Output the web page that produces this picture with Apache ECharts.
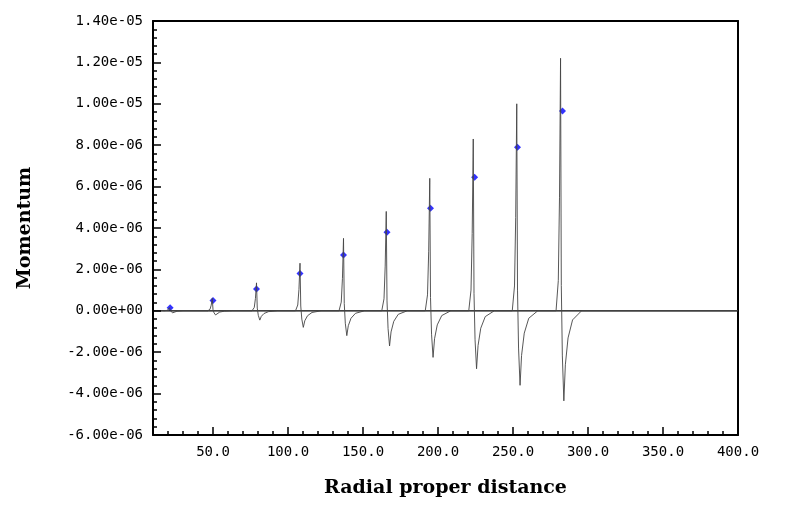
<!DOCTYPE html>
<html><head><meta charset="utf-8">
<script src="https://cdn.jsdelivr.net/npm/echarts@6/dist/echarts.min.js"></script>
<style>html,body{margin:0;padding:0;background:#fff}#c{width:789px;height:519px}</style>
</head><body><div id="c"></div>
<script>
// momentum curve, values in units of 1e-6
const curve = [[17,0],
[18,0],[19.5,0.02],[20.3,0.07],[21,0.15],[21.5,0.02],[22.2,-0.05],[23,-0.1],[24,-0.06],[26,-0.02],[30,0],
[46.5,0],[48,0.07],[48.8,0.27],[49.5,0.6],[50,0.06],[50.7,-0.1],[51.7,-0.2],[52.7,-0.12],[54.5,-0.06],[57.5,-0.02],[63,0],
[76,0],[77.5,0.16],[78.3,0.6],[79,1.35],[79.5,0.13],[80.2,-0.22],[81.2,-0.45],[82.2,-0.27],[84,-0.13],[87,-0.04],[93,0],
[105,0],[106.5,0.28],[107.3,1.03],[108,2.3],[108.5,0.23],[109.2,-0.4],[110.2,-0.8],[111.2,-0.48],[113,-0.24],[116,-0.08],[122,0],
[134,0],[135.5,0.42],[136.3,1.57],[137,3.5],[137.5,0.35],[138.2,-0.6],[139.2,-1.2],[140.2,-0.72],[142,-0.36],[145,-0.12],[151,0],
[162.5,0],[164,0.58],[164.8,2.16],[165.5,4.8],[166,0.48],[166.7,-0.85],[167.7,-1.7],[168.7,-1.02],[170.5,-0.51],[173.5,-0.17],[179.5,0],
[191.5,0],[193,0.77],[193.8,2.88],[194.5,6.4],[195,0.64],[195.7,-1.13],[196.7,-2.25],[197.7,-1.35],[199.5,-0.68],[202.5,-0.23],[208.5,0],
[220.5,0],[222,1.0],[222.8,3.74],[223.5,8.3],[224,0.83],[224.7,-1.4],[225.7,-2.8],[226.7,-1.68],[228.5,-0.84],[231.5,-0.28],[237.5,0],
[249.5,0],[251,1.2],[251.8,4.5],[252.5,10.0],[253,1.0],[253.7,-1.8],[254.7,-3.6],[255.7,-2.16],[257.5,-1.08],[260.5,-0.36],[266.5,0],
[278.7,0],[280.2,1.46],[281,5.49],[281.7,12.2],[282.2,1.22],[282.9,-2.18],[283.9,-4.35],[284.9,-2.61],[286.7,-1.31],[289.7,-0.44],[295.7,0],[400,0]];
const pointX = [21.4,50,79,108,137,166,195,224.4,253,283];
const pointY = [0.15,0.5,1.05,1.8,2.7,3.8,4.95,6.45,7.9,9.65];
const xTicks = [50,100,150,200,250,300,350,400];
const E6 = 1e-6;
function fmtY(v){
  if (Math.abs(v) < 1e-12) return '0.00e+00';
  let s = v.toExponential(2); let [m,e] = s.split('e');
  let sign = e[0]; let n = e.slice(1); if (n.length<2) n='0'+n;
  return m+'e'+sign+n;
}
const mono = 'DejaVu Sans Mono';
const chart = echarts.init(document.getElementById('c'));
chart.setOption({
  animation:false,
  grid:{left:153,right:51,top:21,bottom:84},
  xAxis:[{type:'value',min:10,max:400,interval:10,
    axisLine:{onZero:false,lineStyle:{color:'#000',width:2}},
    axisTick:{inside:true,length:4,lineStyle:{color:'#000',width:1.5}},
    axisLabel:{show:false},splitLine:{show:false},
    name:'Radial proper distance',nameLocation:'middle',nameGap:44,
    nameTextStyle:{fontFamily:'DejaVu Serif',fontWeight:'bold',fontSize:19,color:'#000'}},
   {type:'value',min:10,max:400,position:'bottom',
    axisLine:{show:false,onZero:false},
    axisTick:{inside:true,length:8,customValues:xTicks,lineStyle:{color:'#000',width:1.5}},
    axisLabel:{customValues:xTicks,formatter:v=>v.toFixed(1),fontFamily:mono,fontSize:14,color:'#000',margin:10},
    splitLine:{show:false}},
   {type:'value',min:10,max:400,position:'top',axisLine:{onZero:false,lineStyle:{color:'#000',width:2}},axisTick:{show:false},axisLabel:{show:false},splitLine:{show:false}}],
  yAxis:[{type:'value',min:-6e-6,max:1.4e-5,interval:2e-6,
    axisLine:{show:true,onZero:false,lineStyle:{color:'#000',width:2}},
    axisTick:{inside:true,length:8,lineStyle:{color:'#000',width:1.5}},
    minorTick:{show:true,splitNumber:5,length:4,lineStyle:{color:'#000',width:1.5}},
    axisLabel:{formatter:fmtY,fontFamily:mono,fontSize:14,color:'#000',margin:10},
    splitLine:{show:false},
    name:'Momentum',nameLocation:'middle',nameGap:118,
    nameTextStyle:{fontFamily:'DejaVu Serif',fontWeight:'bold',fontSize:19,color:'#000'}},
   {type:'value',min:-6e-6,max:1.4e-5,position:'right',axisLine:{show:true,onZero:false,lineStyle:{color:'#000',width:2}},axisTick:{show:false},axisLabel:{show:false},splitLine:{show:false}}],
  series:[
    {type:'line',data:[[10,0],[400,0]],symbol:'none',lineStyle:{color:'#000',width:1.2},silent:true},
    {type:'line',data:curve.map(p=>[p[0],p[1]*E6]),symbol:'none',lineStyle:{color:'#444',width:0.9}},
    {type:'scatter',data:pointX.map((x,i)=>[x,pointY[i]*E6]),symbol:'diamond',symbolSize:7,itemStyle:{color:'#0000ff'}}
  ]
});
</script></body></html>
